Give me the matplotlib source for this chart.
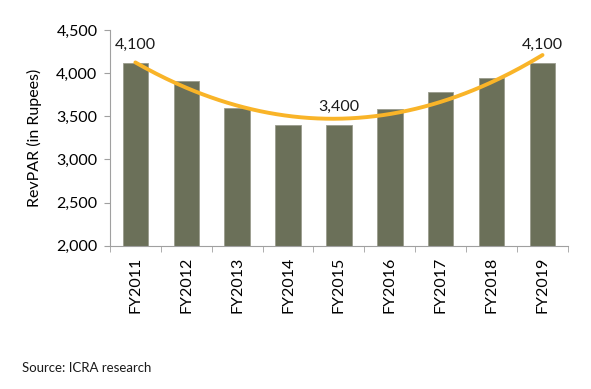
import numpy as np
import matplotlib.pyplot as plt

plt.rcParams['font.family'] = ['Lato', 'DejaVu Sans']

# DATA
years = ["FY2011", "FY2012", "FY2013", "FY2014", "FY2015",
         "FY2016", "FY2017", "FY2018", "FY2019"]
revpar = [4123, 3911, 3594, 3400, 3400, 3582, 3780, 3945, 4120]
label_idx = [0, 4, 8]
label_txt = ["4,100", "3,400", "4,100"]

fig = plt.figure(figsize=(5.91, 3.89), dpi=100)
ax = fig.add_axes([0.186, 0.368, 0.775, 0.555])

x = np.arange(len(years))
ax.bar(x, revpar, width=0.5, color="#6B7059", edgecolor="#9A9C8E",
       linewidth=0.6, zorder=2)

# polynomial (order 2) trendline, as in the source chart
coef = np.polyfit(x, revpar, 2)
xs = np.linspace(x[0], x[-1], 200)
ax.plot(xs, np.polyval(coef, xs), color="#F9B428", lw=2.8,
        solid_capstyle="round", zorder=3)

for i, t in zip(label_idx, label_txt):
    ax.annotate(t, (x[i], revpar[i]), xytext=(0, 8),
                textcoords="offset points", ha="center", va="bottom",
                fontsize=11.5, color="#1a1a1a")

ax.set_xlim(-0.5, len(years) - 0.5)
ax.set_ylim(2000, 4500)
ax.set_yticks(np.arange(2000, 4501, 500))
ax.set_yticklabels([f"{v:,}" for v in range(2000, 4501, 500)], fontsize=11.5)

ax.set_xticks(x)
ax.set_xticklabels(years, rotation=90, fontsize=11.5)
ax.tick_params(axis="x", length=0, pad=8)
ax.set_xticks(np.arange(-0.5, len(years), 1), minor=True)
ax.tick_params(axis="x", which="minor", length=4, color="#A0A0A0")
ax.tick_params(axis="y", length=4, color="#A0A0A0", pad=5)

for s in ["top", "right"]:
    ax.spines[s].set_visible(False)
for s in ["left", "bottom"]:
    ax.spines[s].set_color("#A0A0A0")

ax.set_ylabel("RevPAR (in Rupees)", fontsize=11.5, labelpad=10)

fig.text(0.037, 0.043, "Source: ICRA research", fontsize=9.5, color="#1a1a1a")

plt.savefig("out.png", dpi=100)
